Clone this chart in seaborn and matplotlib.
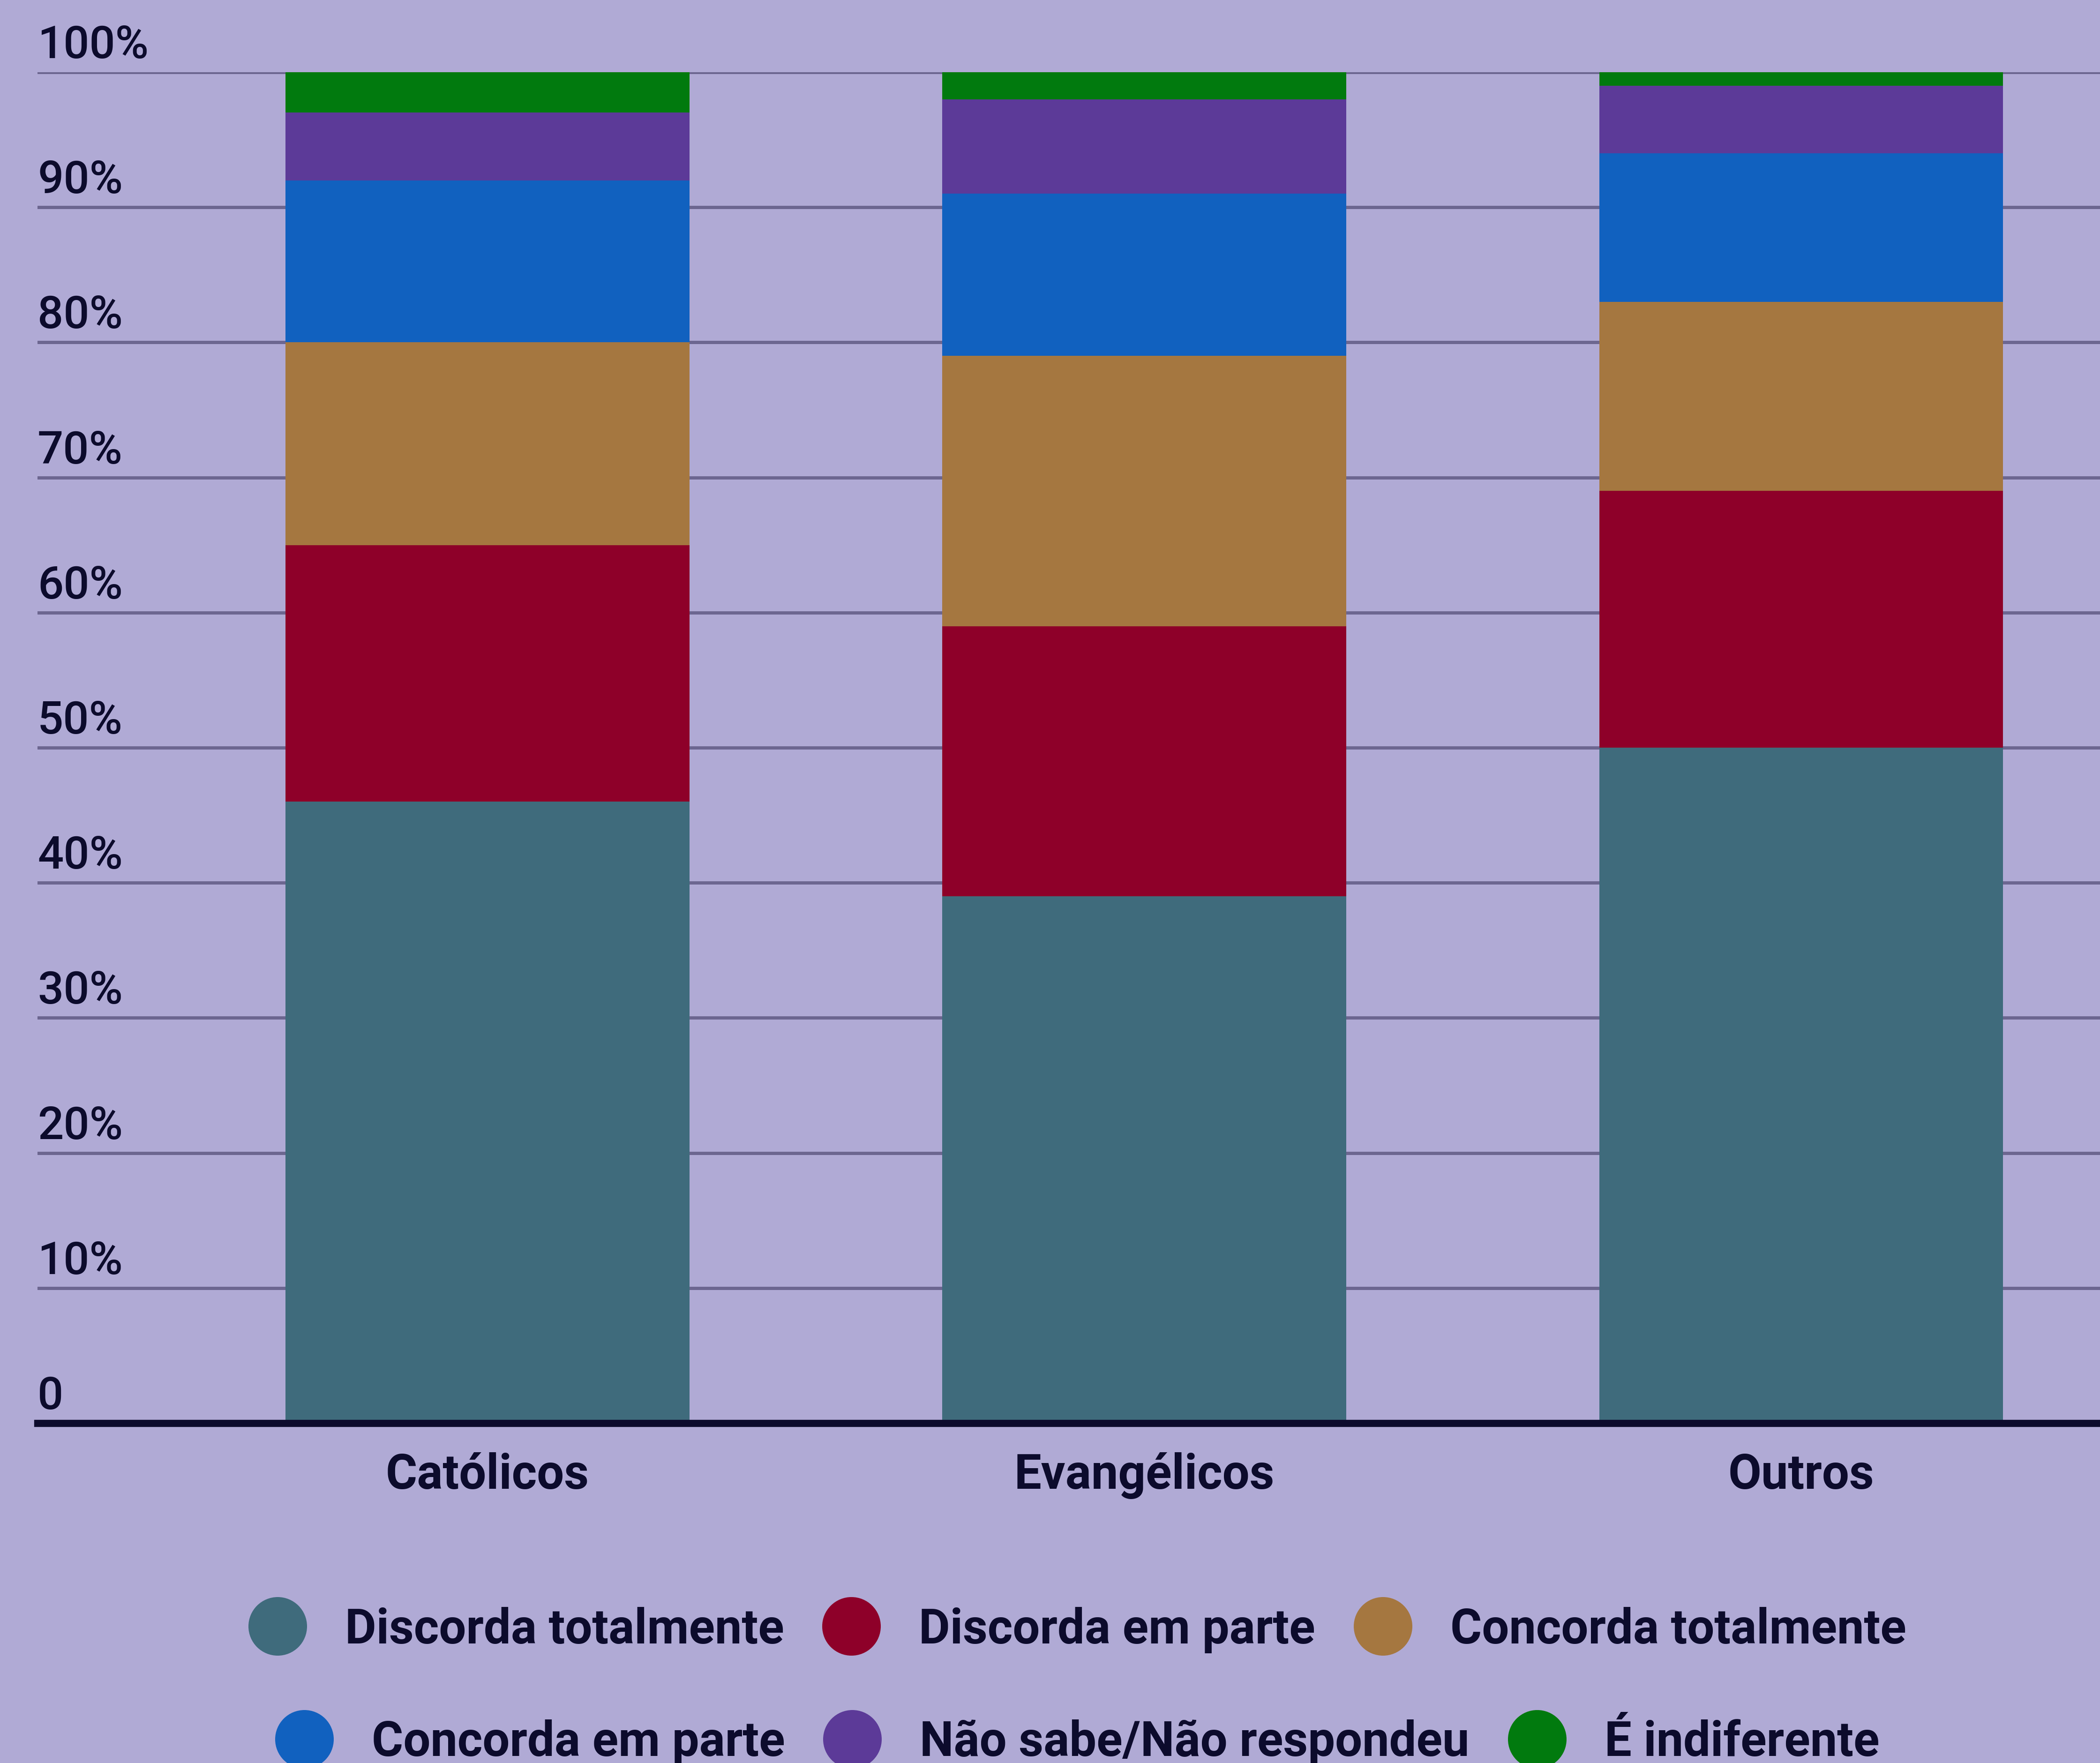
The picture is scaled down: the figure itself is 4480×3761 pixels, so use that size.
import numpy as np
import pandas as pd
import matplotlib
matplotlib.use("Agg")
import matplotlib.pyplot as plt
from matplotlib.lines import Line2D
from matplotlib.transforms import blended_transform_factory
import seaborn as sns

# ---- data -------------------------------------------------------------
categories = ["Católicos", "Evangélicos", "Outros"]
series_names = [
    "Discorda totalmente",
    "Discorda em parte",
    "Concorda totalmente",
    "Concorda em parte",
    "Não sabe/Não respondeu",
    "É indiferente",
]
discorda_totalmente = [46, 39, 50]
discorda_em_parte = [19, 20, 19]
concorda_totalmente = [15, 20, 14]
concorda_em_parte = [12, 12, 11]
nao_sabe = [5, 7, 5]
indiferente = [3, 2, 1]
y_ticks = [0, 10, 20, 30, 40, 50, 60, 70, 80, 90, 100]
y_tick_labels = ["0", "10%", "20%", "30%", "40%", "50%", "60%", "70%", "80%", "90%", "100%"]

series_colors = ["#3F6B7C", "#8E0029", "#A57740", "#1161BF", "#5C3A98", "#017A0E"]
bg = "#B0AAD5"
ink = "#0C0B2C"
grid_c = "#6C6690"

# ---- style ------------------------------------------------------------
sns.set_theme(style="white")
plt.rcParams["font.family"] = ["Roboto", "DejaVu Sans"]

fig = plt.figure(figsize=(22.4, 18.81), dpi=200, facecolor=bg)
ax = fig.add_axes([0.01786, 0.1927, 0.98214, 0.7661])
ax.set_facecolor(bg)

# stacked bars: draw cumulative totals from the top layer down
table = pd.DataFrame(
    {
        "categoria": categories,
        series_names[0]: discorda_totalmente,
        series_names[1]: discorda_em_parte,
        series_names[2]: concorda_totalmente,
        series_names[3]: concorda_em_parte,
        series_names[4]: nao_sabe,
        series_names[5]: indiferente,
    }
)
cumulative = table[series_names].cumsum(axis=1)
for name, color in reversed(list(zip(series_names, series_colors))):
    sns.barplot(
        x=table["categoria"], y=cumulative[name], color=color,
        width=0.615, saturation=1, linewidth=0, ax=ax, zorder=3,
    )

ax.set_xlim(-0.685, 2.455)
ax.set_ylim(0, 100)
ax.set_xlabel("")
ax.set_ylabel("")

# grid and axis lines
ax.set_yticks(y_ticks)
ax.yaxis.grid(True, color=grid_c, linewidth=2.5, zorder=0)
ax.set_axisbelow(True)
for side in ["top", "right", "left"]:
    ax.spines[side].set_visible(False)
ax.spines["bottom"].set_color(ink)
ax.spines["bottom"].set_linewidth(5.5)
ax.spines["bottom"].set_zorder(5)
ax.tick_params(axis="both", length=0)
ax.set_yticklabels([])

# y labels sit above their grid lines at the left edge
trans = blended_transform_factory(ax.transAxes, ax.transData)
for v, lab in zip(y_ticks, y_tick_labels):
    ax.annotate(lab, xy=(0, v), xycoords=trans, xytext=(0, 4),
                textcoords="offset points", ha="left", va="bottom",
                fontsize=35, fontweight="medium", color=ink)

ax.set_xticks(range(len(categories)))
ax.set_xticklabels(categories, fontsize=37, fontweight="bold", color=ink)
ax.tick_params(axis="x", pad=22)

# legend in two centred rows
def legend_row(names, colors, x, y):
    handles = [
        Line2D([], [], marker="o", linestyle="none", markersize=45,
               markerfacecolor=c, markeredgewidth=0)
        for c in colors
    ]
    leg = fig.legend(
        handles, names, loc="center", bbox_to_anchor=(x, y), ncol=len(names),
        frameon=False, handlelength=1.2, handletextpad=0.8,
        columnspacing=0.8, borderpad=0, prop={"weight": "bold", "size": 37},
    )
    for t in leg.get_texts():
        t.set_color(ink)
    return leg

legend_row(series_names[:3], series_colors[:3], 0.513, 0.0757)
legend_row(series_names[3:], series_colors[3:], 0.513, 0.0117)

fig.savefig("out.png", dpi=200, facecolor=bg)
